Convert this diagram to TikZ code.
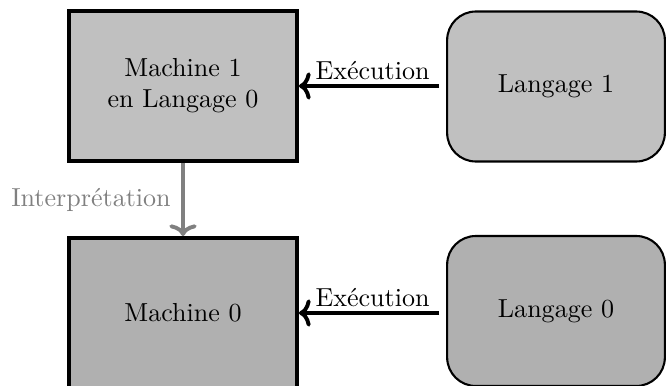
\documentclass[tikz,border=0pt]{standalone}
\usetikzlibrary{arrows.meta}
\definecolor{topfill}{gray}{0.753}
\definecolor{botfill}{gray}{0.69}
\definecolor{interp}{gray}{0.5}
\begin{document}
\begin{tikzpicture}[x=0.384pt,y=-0.384pt,
  machbox/.style={draw=black, line width=1.5pt, rectangle, minimum width=87.55pt, minimum height=57.6pt, align=center, inner sep=0pt},
  langbox/.style={draw=black, line width=0.8pt, rectangle, rounded corners=11pt, minimum width=83.6pt, minimum height=57.6pt, align=center, inner sep=0pt},
  tip/.style={-{Computer Modern Rightarrow[length=4.5pt,width=10.5pt,line width=1.5pt]}},
  execarrow/.style={line width=1.5pt, tip, shorten <=2.7pt},
  interparrow/.style={draw=interp, line width=1.5pt, tip}
]
\useasboundingbox (0,0) rectangle (666,386);
\node[machbox, fill=topfill] (m1) at (183,86) {Machine 1\\en Langage 0};
\node[langbox, fill=topfill] (l1) at (556,86.5) {Langage 1};
\node[machbox, fill=botfill] (m0) at (183,313) {Machine 0};
\node[langbox, fill=botfill] (l0) at (556,311) {Langage 0};
\draw[execarrow] (l1.west |- m1.east) -- node[above, inner sep=1.5pt] (e1) {Exécution} (m1.east);
\draw[execarrow] (l0.west |- m0.east) -- node[above, inner sep=1.5pt] (e0) {Exécution} (m0.east);
\draw[interparrow] (m1.south) -- node[left, text=interp, inner sep=4pt] (ip) {Interprétation} (m0.north);
\end{tikzpicture}
\end{document}
